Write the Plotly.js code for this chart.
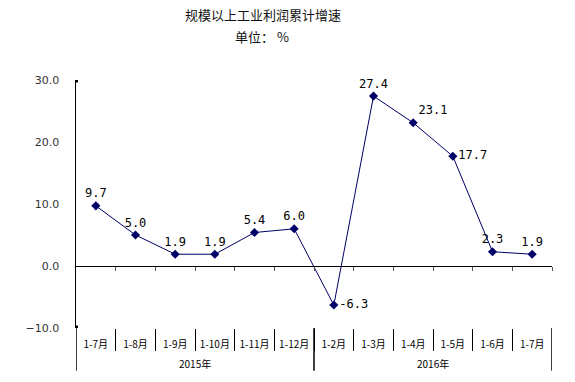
<!DOCTYPE html>
<html>
<head>
<meta charset="utf-8">
<script src="https://cdn.plot.ly/plotly-3.0.1.min.js"></script>
<style>html,body{margin:0;padding:0;background:#fff;}#chart{width:575px;height:382px;}</style>
</head>
<body>
<div id="chart"></div>
<script>
// ---- data ----
const months = ["1-7月","1-8月","1-9月","1-10月","1-11月","1-12月","1-2月","1-3月","1-4月","1-5月","1-6月","1-7月"];
const years = ["2015年","2016年"];
const monthsPerYear = [6, 6];
const growth = [9.7, 5.0, 1.9, 1.9, 5.4, 6.0, -6.3, 27.4, 23.1, 17.7, 2.3, 1.9];
const yTicks = [-10, 0, 10, 20, 30];

// ---- derived ----
const idx = months.map((_, i) => i);
const boundaries = months.map((_, i) => i + 0.5);          // 0.5 .. 11.5
const innerBounds = boundaries.slice(0, -1);                 // 0.5 .. 10.5
const labelPos = growth.map(v => v < 0 ? 'middle right' : 'top center');
labelPos[8] = 'top right';
labelPos[9] = 'middle right';

// year group edges and centres
let start = -0.5;
const groupEdges = [start];
const groupCenters = [];
monthsPerYear.forEach(n => { groupCenters.push(start + n / 2); start += n; groupEdges.push(start); });

const lineColor = '#000066';

const traces = [
  {
    x: idx, y: growth, type: 'scatter', mode: 'lines+markers+text',
    text: growth.map(v => v.toFixed(1)),
    textposition: labelPos,
    textfont: {family: 'DejaVu Sans Mono, monospace', size: 12, color: '#000'},
    line: {color: lineColor, width: 1},
    marker: {symbol: 'diamond', size: 7, color: lineColor},
    hoverinfo: 'x+y', showlegend: false, cliponaxis: false
  },
  { x: idx, y: idx.map(() => null), xaxis: 'x2', type: 'scatter', mode: 'lines', showlegend: false, hoverinfo: 'skip' },
  { x: idx, y: idx.map(() => null), xaxis: 'x3', type: 'scatter', mode: 'lines', showlegend: false, hoverinfo: 'skip' }
];

const xr = [-0.5, months.length - 0.5];

const layout = {
  width: 575, height: 382,
  margin: {l: 76, r: 23, t: 80, b: 54},
  paper_bgcolor: '#fff', plot_bgcolor: '#fff',
  showlegend: false,
  font: {family: 'Noto Sans CJK SC, sans-serif', color: '#000'},
  xaxis: {
    range: xr, tickmode: 'array', tickvals: idx, ticktext: months,
    ticks: '', showgrid: false, zeroline: false, showline: false,
    tickfont: {family: 'Noto Sans CJK SC, sans-serif', size: 10, color: '#000'},
    ticklabelstandoff: 9, fixedrange: true
  },
  xaxis2: {
    range: xr, overlaying: 'x', anchor: 'free', position: 0.25,
    tickmode: 'array', tickvals: boundaries, ticks: 'outside', ticklen: 4, tickcolor: '#555', tickwidth: 1,
    showticklabels: false, showgrid: false, zeroline: false,
    showline: true, linecolor: '#000', linewidth: 1
  },
  xaxis3: {
    range: xr, overlaying: 'x', anchor: 'free', position: 0,
    tickmode: 'array', tickvals: innerBounds, ticks: 'outside', ticklen: 22, tickcolor: '#000', tickwidth: 1,
    showticklabels: false, showgrid: false, zeroline: false, showline: false
  },
  yaxis: {
    range: [-10, 30], tickmode: 'array', tickvals: yTicks,
    tickformat: '.1f', ticks: '', showgrid: false, zeroline: false,
    showline: true, linecolor: '#000', linewidth: 1.5,
    tickfont: {family: 'DejaVu Sans, sans-serif', size: 11, color: '#333'},
    ticklabelstandoff: 13, fixedrange: true
  },
  shapes: [
    ...groupEdges.map(e => ({
      type: 'line', xref: 'x', yref: 'paper', x0: e, x1: e, y0: 0, y1: -0.172,
      line: {color: '#000', width: 1.5}
    })),
    ...[30, -10].map(v => ({
      type: 'rect', xref: 'x', yref: 'y', xsizemode: 'pixel', ysizemode: 'pixel',
      xanchor: -0.5, yanchor: v, x0: -2, x1: 2, y0: -2.5, y1: 2.5,
      fillcolor: '#000', line: {width: 0}
    }))
  ],
  annotations: [
    {text: '规模以上工业利润累计增速', xref: 'paper', yref: 'paper', x: 0.393, y: 1, yanchor: 'middle', yshift: 66,
     showarrow: false, font: {family: 'Noto Sans CJK SC', size: 13, color: '#111'}},
    {text: '单位： %', xref: 'paper', yref: 'paper', x: 0.39, y: 1, yanchor: 'middle', yshift: 44,
     showarrow: false, font: {family: 'Noto Sans CJK SC', size: 13, color: '#111'}},
    ...years.map((yr, i) => ({
      text: yr, xref: 'x', yref: 'paper', x: groupCenters[i], y: 0, yanchor: 'middle', yshift: -35,
      showarrow: false, font: {family: 'Noto Sans CJK SC', size: 10, color: '#000'}
    }))
  ]
};

Plotly.newPlot('chart', traces, layout, {displayModeBar: false, staticPlot: true});
</script>
</body>
</html>
